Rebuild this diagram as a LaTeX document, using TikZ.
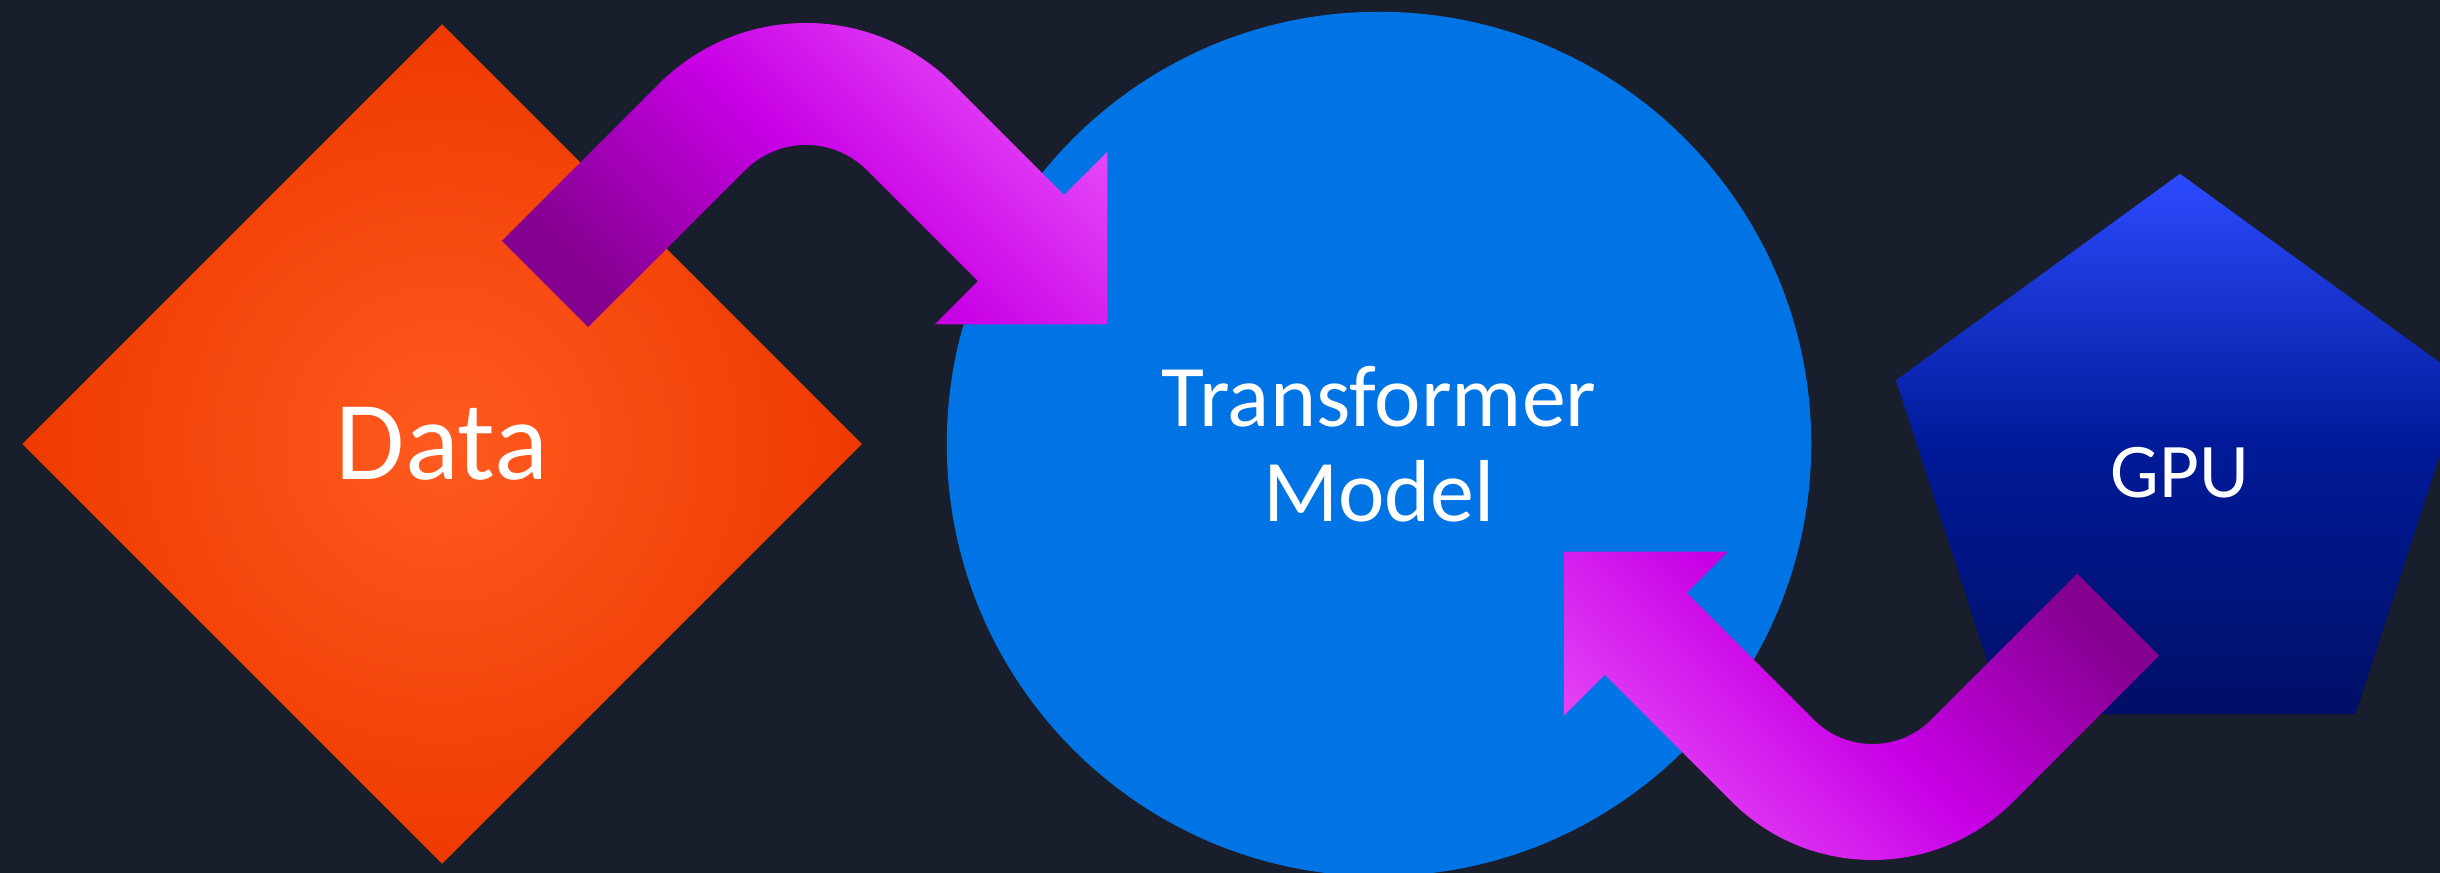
\documentclass[tikz,border=0pt]{standalone}
\usepackage{fontspec}
\setmainfont{Carlito}
\usetikzlibrary{shapes.geometric}

\definecolor{bgnavy}{HTML}{181E2C}
\definecolor{datainner}{HTML}{FF5A1F}
\definecolor{dataouter}{HTML}{EE3A00}
\definecolor{modelblue}{HTML}{0074E4}
\definecolor{gputop}{HTML}{2C4BFF}
\definecolor{gpumid}{HTML}{001A99}
\definecolor{gpubot}{HTML}{000F66}
\definecolor{flowdark}{HTML}{84008F}
\definecolor{flowmid}{HTML}{C800E6}
\definecolor{flowlight}{HTML}{E64AF8}

\begin{document}
\begin{tikzpicture}[x=0.01cm, y=0.01cm,
  every node/.style = {text=white, inner sep=0pt, outer sep=0pt},
  datanode/.style = {diamond, aspect=1, minimum width=8.39cm, minimum height=8.39cm,
    inner color=datainner, outer color=dataouter, font=\fontsize{32}{34}\selectfont},
  modelnode/.style = {circle, minimum size=8.64cm, fill=modelblue, align=center,
    font=\fontsize{25}{27.2}\selectfont},
  gpunode/.style = {regular polygon, regular polygon sides=5, minimum size=5.97cm,
    top color=gputop, bottom color=gpubot, middle color=gpumid,
    font=\fontsize{22}{24}\selectfont},
  flowarrow/.style = {bottom color=flowdark, top color=flowlight, middle color=flowmid}]

\useasboundingbox (0,0) rectangle (2440,872);
\fill[bgnavy] (-10,-10) rectangle (2450,882);

% Define the three blocks
\node[datanode] (data) at (442,428) {Data};
\node[modelnode] (model) at (1379,428) {Transformer\\Model};
\node[gpunode] (gpu) at (2180,399.5) {GPU};

% Data -> Model
\path[flowarrow, shading angle=-45]
  (501.9,631.1) -- (658.9,788.1) arc[start angle=135, end angle=45, radius=208]
  -- (1064.1,677.1) -- (1107.3,720.3) -- (1107.3,547.7) -- (934.7,547.7)
  -- (977.9,590.9) -- (866.9,701.9) arc[start angle=45, end angle=135, radius=86]
  -- (588.1,544.9) -- cycle;

% GPU -> Model
\path[flowarrow, shading angle=135]
  (2159.2,216.3) -- (2013.2,70.3) arc[start angle=-45, end angle=-135, radius=199]
  -- (1604.8,197.3) -- (1563.8,156.3) -- (1563.8,320.3) -- (1727.8,320.3)
  -- (1686.8,279.3) -- (1813.8,152.3) arc[start angle=-135, end angle=-45, radius=83]
  -- (2077.2,298.3) -- cycle;
\end{tikzpicture}
\end{document}
